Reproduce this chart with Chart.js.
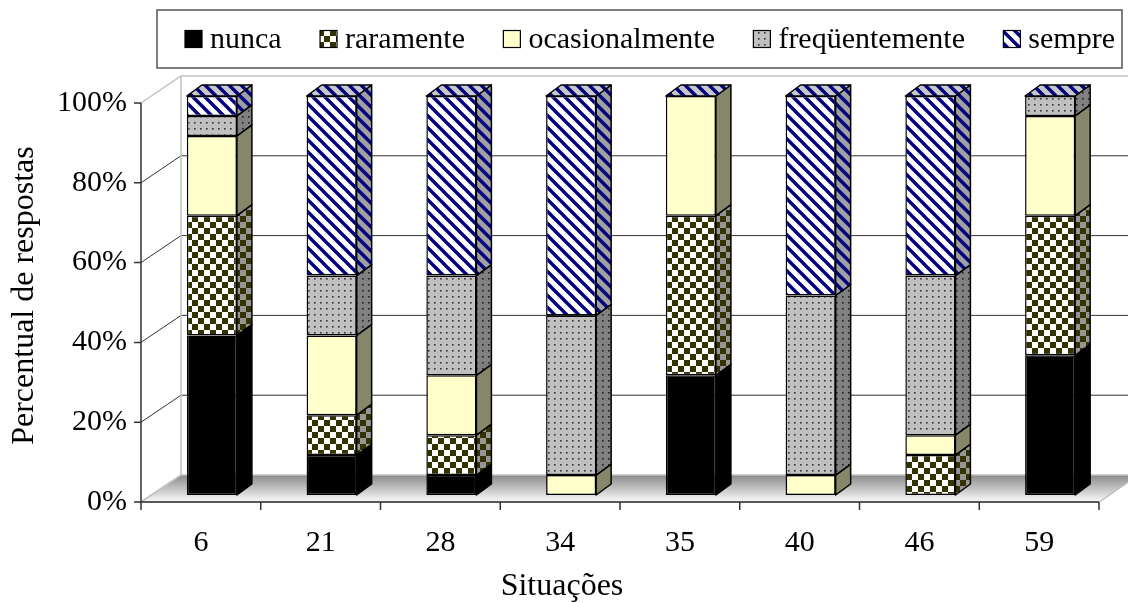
<!DOCTYPE html>
<html>
<head>
<meta charset="utf-8">
<script src="https://cdn.jsdelivr.net/npm/chart.js@4"></script>
<style>
html, body { margin: 0; padding: 0; background: #fff; }
#wrap { width: 1128px; height: 603px; position: relative; }
</style>
</head>
<body>
<div id="wrap"><canvas id="chart"></canvas></div>
<script>
// Dados (percentual de respostas por situação)
const situacoes = ['6', '21', '28', '34', '35', '40', '46', '59'];
const nunca          = [40, 10,  5,  0, 30,  0,  0, 35];
const raramente      = [30, 10, 10,  0, 40,  0, 10, 35];
const ocasionalmente = [20, 20, 15,  5, 30,  5,  5, 25];
const frequentemente = [ 5, 15, 25, 40,  0, 45, 40,  5];
const sempre         = [ 5, 45, 45, 55,  0, 50, 45,  0];
const seriesNames = ['nunca', 'raramente', 'ocasionalmente', 'freqüentemente', 'sempre'];
const yTicks = [0, 20, 40, 60, 80, 100];
const xTitle = 'Situações';
const yTitle = 'Percentual de respostas';

const FONT = '"Liberation Serif", "Times New Roman", serif';
Chart.defaults.font.family = FONT;

// 3D offsets, relative to the plane of the bar fronts
const FRONT = { dx: -11, dy: 7 };
const BACK = { dx: 29, dy: -20 };
const DEPTH = { dx: 15, dy: -11 };

function makePattern(w, h, paint) {
    const c = document.createElement('canvas');
    c.width = w; c.height = h;
    const g = c.getContext('2d');
    paint(g, w, h);
    return g.createPattern(c, 'repeat');
}
function checker(dark, light) {
    return makePattern(12, 12, g => {
        g.fillStyle = light; g.fillRect(0, 0, 12, 12);
        g.fillStyle = dark; g.fillRect(0, 0, 6, 6); g.fillRect(6, 6, 6, 6);
    });
}
function dots(bg, dot) {
    return makePattern(6, 6, g => {
        g.fillStyle = bg; g.fillRect(0, 0, 6, 6);
        g.fillStyle = dot; g.fillRect(2, 2, 1.6, 1.6);
    });
}
function stripes(bg, line) {
    return makePattern(12, 12, g => {
        g.fillStyle = bg; g.fillRect(0, 0, 12, 12);
        g.strokeStyle = line; g.lineWidth = 3.4;
        g.beginPath();
        for (const k of [-1, 0, 1]) { g.moveTo(k * 12 - 2, -2); g.lineTo(k * 12 + 14, 14); }
        g.stroke();
    });
}

const fronts = ['#000000', checker('#333300', '#ffffff'), '#ffffcc', dots('#c0c0c0', '#333333'), stripes('#ffffff', '#000080')];
const sides  = ['#000000', checker('#333300', '#969696'), '#86866a', dots('#808080', '#222222'), stripes('#a0a0a0', '#000080')];
const topFace = stripes('#c8c8c8', '#000080');

// Walls, floor and front axes
const frame3d = {
    id: 'frame3d',
    beforeDatasetsDraw(chart) {
        const { ctx, chartArea: a, scales: { x, y } } = chart;
        const y0 = y.getPixelForValue(0);
        const fl = a.left + FRONT.dx, fr = a.right + FRONT.dx;
        const bl = a.left + BACK.dx, br = a.right + BACK.dx;
        ctx.save();

        // floor
        const g = ctx.createLinearGradient(0, y0 + BACK.dy, 0, y0 + FRONT.dy);
        g.addColorStop(0, '#8a8a8a'); g.addColorStop(0.25, '#a6a6a6'); g.addColorStop(1, '#fbfbfb');
        ctx.beginPath();
        ctx.moveTo(fl, y0 + FRONT.dy); ctx.lineTo(fr, y0 + FRONT.dy);
        ctx.lineTo(br, y0 + BACK.dy); ctx.lineTo(bl, y0 + BACK.dy); ctx.closePath();
        ctx.fillStyle = g; ctx.fill();
        ctx.strokeStyle = '#c0c0c0'; ctx.lineWidth = 1.5; ctx.stroke();

        // wall gridlines
        yTicks.forEach(v => {
            const py = y.getPixelForValue(v);
            const edge = v === 0 || v === 100;
            ctx.strokeStyle = edge ? '#c0c0c0' : '#333333';
            ctx.lineWidth = edge ? 1.5 : 1;
            ctx.beginPath();
            ctx.moveTo(fl, py + FRONT.dy); ctx.lineTo(bl, py + BACK.dy);
            if (v !== 0) ctx.lineTo(br, py + BACK.dy);
            ctx.stroke();
        });
        ctx.strokeStyle = '#c0c0c0'; ctx.lineWidth = 1.5;
        ctx.beginPath();
        ctx.moveTo(bl, y.getPixelForValue(100) + BACK.dy); ctx.lineTo(bl, y0 + BACK.dy);
        ctx.stroke();

        // front axes
        ctx.strokeStyle = '#333333'; ctx.lineWidth = 1.5;
        ctx.beginPath();
        ctx.moveTo(fl, y.getPixelForValue(100) + FRONT.dy); ctx.lineTo(fl, y0 + FRONT.dy); ctx.lineTo(fr, y0 + FRONT.dy);
        yTicks.forEach(v => {
            const py = y.getPixelForValue(v) + FRONT.dy;
            ctx.moveTo(fl - 7, py); ctx.lineTo(fl, py);
        });
        for (let i = 0; i <= situacoes.length; i++) {
            const px = x.getPixelForValue(i - 0.5) + FRONT.dx;
            ctx.moveTo(px, y0 + FRONT.dy); ctx.lineTo(px, y0 + FRONT.dy + 8);
        }
        ctx.stroke();
        ctx.restore();
    },
    afterDatasetsDraw(chart) {
        const { ctx } = chart;
        ctx.save();
        ctx.strokeStyle = '#000'; ctx.lineWidth = 1.5; ctx.lineJoin = 'round';
        chart.data.datasets.forEach((ds, d) => {
            chart.getDatasetMeta(d).data.forEach(bar => {
                const { x, y, base, width } = bar.getProps(['x', 'y', 'base', 'width'], true);
                if (Math.abs(base - y) < 0.5) return;
                const rx = x + width / 2;
                ctx.beginPath();
                ctx.moveTo(rx, y); ctx.lineTo(rx + DEPTH.dx, y + DEPTH.dy);
                ctx.lineTo(rx + DEPTH.dx, base + DEPTH.dy); ctx.lineTo(rx, base); ctx.closePath();
                ctx.fillStyle = sides[d]; ctx.fill(); ctx.stroke();
            });
        });
        // top faces (last series)
        const last = chart.getDatasetMeta(chart.data.datasets.length - 1);
        last.data.forEach(bar => {
            const { x, y, width } = bar.getProps(['x', 'y', 'width'], true);
            const lx = x - width / 2, rx = x + width / 2;
            ctx.beginPath();
            ctx.moveTo(lx, y); ctx.lineTo(rx, y);
            ctx.lineTo(rx + DEPTH.dx, y + DEPTH.dy); ctx.lineTo(lx + DEPTH.dx, y + DEPTH.dy); ctx.closePath();
            ctx.fillStyle = topFace; ctx.fill(); ctx.stroke();
        });
        ctx.restore();
    },
    afterDraw(chart) {
        const { ctx } = chart;
        ctx.save();
        // x axis title, centred on the whole picture
        ctx.font = '32px ' + FONT;
        ctx.fillStyle = '#000'; ctx.textAlign = 'center'; ctx.textBaseline = 'middle';
        ctx.fillText(xTitle, 562, 587);

        // legend in a box across the top
        ctx.font = '30px ' + FONT;
        const box = 17, gapText = 8, start = 185, end = 1115, cy = 39;
        const widths = seriesNames.map(n => ctx.measureText(n).width);
        const itemsW = widths.reduce((s, w) => s + box + gapText + w, 0);
        const gap = (end - start - itemsW) / (seriesNames.length - 1);
        ctx.strokeStyle = '#555555'; ctx.lineWidth = 1.5;
        ctx.strokeRect(157, 10, 965, 58);
        let cx = start;
        seriesNames.forEach((name, i) => {
            ctx.fillStyle = fronts[i];
            ctx.fillRect(cx, cy - box / 2, box, box);
            ctx.strokeStyle = '#000'; ctx.lineWidth = 1.2;
            ctx.strokeRect(cx, cy - box / 2, box, box);
            ctx.fillStyle = '#000'; ctx.textBaseline = 'middle'; ctx.textAlign = 'left';
            ctx.fillText(name, cx + box + gapText, cy + 1);
            cx += box + gapText + widths[i] + gap;
        });
        ctx.restore();
    }
};

const seriesData = [nunca, raramente, ocasionalmente, frequentemente, sempre];

new Chart(document.getElementById('chart'), {
    type: 'bar',
    data: {
        labels: situacoes,
        datasets: seriesData.map((d, i) => ({
            label: seriesNames[i],
            data: d,
            backgroundColor: fronts[i],
            borderColor: '#000',
            borderWidth: 1.5,
            borderSkipped: false,
            barPercentage: 0.418,
            categoryPercentage: 1
        }))
    },
    options: {
        responsive: true,
        maintainAspectRatio: false,
        animation: false,
        devicePixelRatio: 1,
        layout: { padding: { top: 96, right: 18, left: 0, bottom: 0 } },
        plugins: { legend: { display: false }, tooltip: { enabled: false } },
        scales: {
            x: {
                stacked: true,
                grid: { display: false, drawTicks: false },
                border: { display: false },
                ticks: { color: '#000', font: { size: 30, lineHeight: 1.2 }, padding: 30, labelOffset: FRONT.dx, maxRotation: 0, autoSkip: false },
                afterFit: s => { s.height = 108; }
            },
            y: {
                stacked: true,
                min: 0, max: 100,
                afterBuildTicks: s => { s.ticks = yTicks.map(v => ({ value: v })); },
                grid: { display: false, drawTicks: false },
                border: { display: false },
                ticks: { color: '#000', font: { size: 30, lineHeight: 1.2 }, padding: 25, labelOffset: FRONT.dy, callback: v => v + '%' },
                title: { display: true, text: yTitle, color: '#000', font: { size: 32, lineHeight: 1 }, padding: { top: 9, bottom: 0 } },
                afterFit: s => { s.width = 152; }
            }
        }
    },
    plugins: [frame3d]
});
</script>
</body>
</html>
